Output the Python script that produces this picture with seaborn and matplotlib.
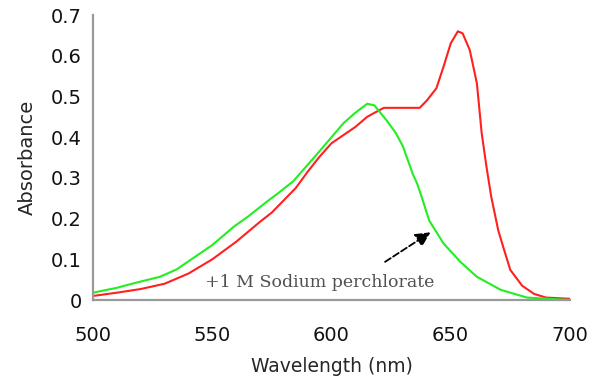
import matplotlib
matplotlib.use("Agg")
import matplotlib.pyplot as plt
import numpy as np
import pandas as pd
import seaborn as sns

# Spectrum without salt (red)
wl_red = [500, 510, 520, 530, 540, 550, 560, 570, 575, 580, 585, 590, 595, 600,
          605, 610, 615, 620, 622, 637, 640, 644, 647, 650, 653, 655, 658, 661,
          663, 665, 667, 670, 672, 675, 680, 685, 690, 700]
abs_red = [0.010, 0.018, 0.027, 0.040, 0.065, 0.100, 0.143, 0.192, 0.215, 0.245,
           0.275, 0.315, 0.352, 0.385, 0.405, 0.425, 0.450, 0.466, 0.472, 0.472,
           0.490, 0.520, 0.573, 0.630, 0.660, 0.655, 0.614, 0.532, 0.410, 0.328,
           0.254, 0.170, 0.131, 0.074, 0.035, 0.015, 0.006, 0.003]

# Spectrum with +1 M sodium perchlorate (green)
wl_green = [500, 510, 517, 528, 535, 542, 550, 559, 565, 573, 578, 584, 587, 593,
            599, 605, 610, 615, 618, 623, 627, 630, 634, 636, 638, 641, 647, 654,
            661, 671, 682, 700]
abs_green = [0.018, 0.030, 0.041, 0.057, 0.075, 0.103, 0.135, 0.180, 0.205, 0.242,
             0.264, 0.292, 0.312, 0.352, 0.393, 0.434, 0.460, 0.482, 0.478, 0.442,
             0.410, 0.377, 0.311, 0.285, 0.250, 0.195, 0.139, 0.094, 0.057, 0.025,
             0.006, 0.000]

x_ticks = [500, 550, 600, 650, 700]
y_ticks = [0, 0.1, 0.2, 0.3, 0.4, 0.5, 0.6, 0.7]
y_tick_labels = ["0", "0.1", "0.2", "0.3", "0.4", "0.5", "0.6", "0.7"]

sns.set_style("white")
plt.rcParams['font.family'] = ['DejaVu Sans']

fig = plt.figure(figsize=(5.93, 3.80), dpi=100)
ax = fig.add_axes([0.157, 0.2105, 0.804, 0.75])

red = pd.DataFrame({"wl": wl_red, "abs": abs_red})
green = pd.DataFrame({"wl": wl_green, "abs": abs_green})
sns.lineplot(data=red, x="wl", y="abs", color="#ff2020", lw=1.5, ax=ax)
sns.lineplot(data=green, x="wl", y="abs", color="#22ee22", lw=1.5, ax=ax)

ax.set_xlim(500, 700)
ax.set_ylim(0, 0.7)
ax.set_xticks(x_ticks)
ax.set_yticks(y_ticks)
ax.set_yticklabels(y_tick_labels)
ax.tick_params(axis="x", length=0, pad=19, labelsize=14, labelcolor="#111111")
ax.tick_params(axis="y", length=0, pad=8, labelsize=14, labelcolor="#111111")
ax.set_xlabel("Wavelength (nm)", fontsize=13.5, labelpad=8)
ax.set_ylabel("Absorbance", fontsize=14, labelpad=10)

for side in ["top", "right"]:
    ax.spines[side].set_visible(False)
for side in ["left", "bottom"]:
    ax.spines[side].set_color("#999999")
    ax.spines[side].set_linewidth(1.6)

ax.annotate("", xy=(642.5, 0.17), xytext=(621.5, 0.09),
            arrowprops=dict(arrowstyle="-|>", color="black", lw=1.3,
                            linestyle="--", mutation_scale=22))
ax.text(547, 0.044, "+1 M Sodium perchlorate", fontsize=12.5,
        family="DejaVu Serif", color="#505050", va="center")

fig.savefig("out.png", dpi=100)
